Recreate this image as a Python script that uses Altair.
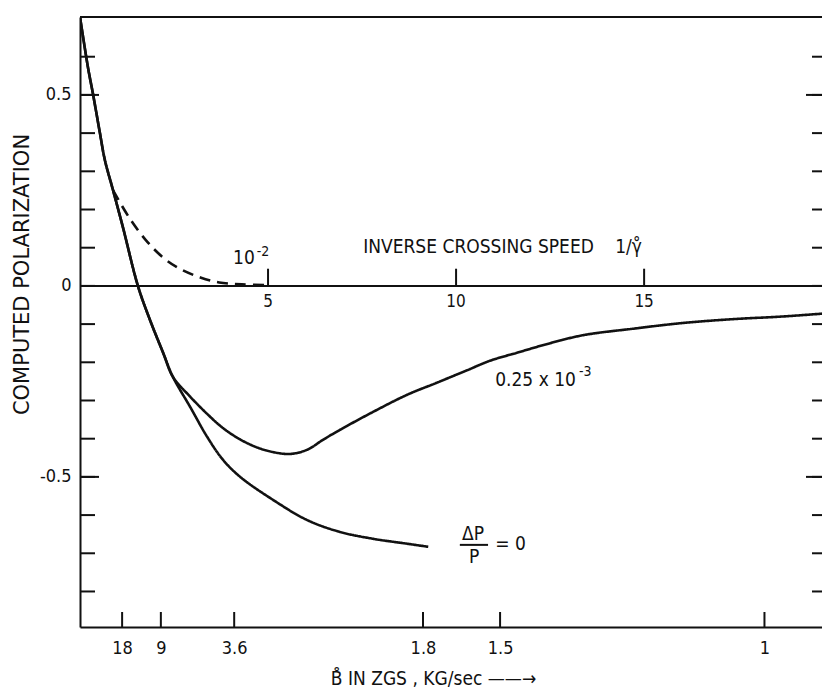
import altair as alt
import pandas as pd

# ---------------- data ----------------
# x = inverse crossing speed 1/gamma, y = computed polarization
common_u = [0.0, 0.21, 0.35, 0.53, 0.66, 0.88, 1.14, 1.54, 1.86, 2.21, 2.47]
common_v = [0.704, 0.573, 0.50, 0.40, 0.33, 0.25, 0.154, 0.0, -0.089, -0.175, -0.238]

upper_u = [2.93, 3.38, 3.80, 4.26, 4.71, 5.13, 5.59, 6.04, 6.46, 6.91, 7.79, 8.70,
           9.45, 10.29, 10.90, 11.62, 12.5, 13.38, 14.71, 16.04, 17.37, 18.70, 19.95]
upper_v = [-0.290, -0.335, -0.372, -0.402, -0.423, -0.435, -0.440, -0.429, -0.403,
           -0.377, -0.330, -0.285, -0.255, -0.221, -0.196, -0.175, -0.150, -0.129,
           -0.112, -0.097, -0.087, -0.080, -0.071]

lower_u = [2.93, 3.38, 3.80, 4.26, 5.13, 6.04, 6.91, 7.79, 8.70, 9.26]
lower_v = [-0.317, -0.395, -0.455, -0.500, -0.560, -0.613, -0.644, -0.662, -0.675, -0.683]

dashed_u = [0.88, 1.3, 1.75, 2.2, 2.65, 3.2, 3.7, 4.3, 5.0]
dashed_v = [0.25, 0.18, 0.12, 0.075, 0.045, 0.022, 0.009, 0.004, 0.002]

series_names = ["dp0", "q", "d"]

y_tick_values = [-0.8, -0.7, -0.6, -0.5, -0.4, -0.3, -0.2, -0.1, 0.0,
                 0.1, 0.2, 0.3, 0.4, 0.5, 0.6]
y_major_values = [0.5, -0.5]
y_label_values = [0.5, 0.0, -0.5]
y_label_texts = ["0.5", "0", "-0.5"]

bdot_positions = [1.12, 2.15, 4.1, 9.12, 11.17, 18.2]
bdot_labels = ["18", "9", "3.6", "1.8", "1.5", "1"]

crossing_ticks = [5, 10, 15]
crossing_labels = ["5", "10", "15"]

XMAX = 19.73
YMIN, YMAX = -0.893, 0.704

# ---------------- tables ----------------
rows = []
for u, v in zip(common_u + lower_u, common_v + lower_v):
    rows.append({"u": u, "v": v, "series": series_names[0]})
for u, v in zip(common_u + upper_u, common_v + upper_v):
    rows.append({"u": u, "v": v, "series": series_names[1]})
for u, v in zip(dashed_u, dashed_v):
    rows.append({"u": u, "v": v, "series": series_names[2]})
curves = pd.DataFrame(rows)

FONT = "DejaVu Sans Condensed, Liberation Sans Narrow, DejaVu Sans"
WIDE = "DejaVu Sans"
INK = "#111111"

xs = alt.Scale(domain=[0, XMAX], nice=False, zero=False)
ys = alt.Scale(domain=[YMIN, YMAX], nice=False, zero=False)


def expr_map(values, texts):
    parts = "".join(
        f"abs(datum.value - ({v})) < 1e-6 ? '{t}' : " for v, t in zip(values, texts)
    )
    return parts + "''"


x_axis = alt.Axis(
    values=bdot_positions,
    labelExpr=expr_map(bdot_positions, bdot_labels),
    ticks=False, tickSize=0, grid=False,
    domain=True, domainColor=INK, domainWidth=2,
    labelFont=FONT, labelFontSize=18, labelColor=INK, labelPadding=12,
    labelFlush=False, labelOverlap=False,
    title="B\u030a IN ZGS , KG/sec \u2014\u2014\u2192",
    titleFont=FONT, titleFontSize=19, titleFontWeight="normal", titleColor=INK,
    titleX=353, titleY=57, titleAlign="center", titleBaseline="alphabetic",
)

y_axis = alt.Axis(
    values=y_label_values,
    labelExpr=expr_map(y_label_values, y_label_texts),
    ticks=False, tickSize=0, grid=False,
    domain=True, domainColor=INK, domainWidth=2,
    labelFont=FONT, labelFontSize=18, labelColor=INK, labelPadding=9,
    labelFlush=False, labelOverlap=False,
    title="COMPUTED  POLARIZATION",
    titleFont=WIDE, titleFontSize=21, titleFontWeight="normal", titleColor=INK,
    titleAngle=270, titleX=-58, titleY=257, titleAlign="center", titleBaseline="middle",
)


def X(field):
    return alt.X(field, scale=xs, axis=x_axis)


def Y(field):
    return alt.Y(field, scale=ys, axis=y_axis)


lines = alt.Chart(curves).mark_line(
    color=INK, strokeWidth=2.6, interpolate="catmull-rom", clip=True
).encode(
    x=X("u:Q"),
    y=Y("v:Q"),
    detail="series:N",
    strokeDash=alt.StrokeDash(
        "series:N",
        scale=alt.Scale(domain=series_names, range=[[1, 0], [1, 0], [11, 7]]),
        legend=None,
    ),
)

yt = pd.DataFrame({"v": y_tick_values})
ym = pd.DataFrame({"v": y_major_values})

left_ticks = alt.Chart(yt).mark_rule(color=INK, strokeWidth=2).encode(
    y=Y("v:Q"), x=alt.value(0), x2=alt.value(15))
left_major = alt.Chart(ym).mark_rule(color=INK, strokeWidth=2).encode(
    y=Y("v:Q"), x=alt.value(0), x2=alt.value(19))
right_ticks = alt.Chart(yt).mark_rule(color=INK, strokeWidth=2).encode(
    y=Y("v:Q"), x=alt.value(732), x2=alt.value(742))
right_major = alt.Chart(ym).mark_rule(color=INK, strokeWidth=2).encode(
    y=Y("v:Q"), x=alt.value(726), x2=alt.value(742))

bt = pd.DataFrame({"u": bdot_positions})
bottom_ticks = alt.Chart(bt).mark_rule(color=INK, strokeWidth=2).encode(
    x=X("u:Q"), y=alt.value(610), y2=alt.value(595))

frame = pd.DataFrame({"u": [0.0, 0.0], "u2": [XMAX, XMAX], "v": [0.0, YMAX]})
frame_lines = alt.Chart(frame).mark_rule(color=INK, strokeWidth=2).encode(
    x=X("u:Q"), x2="u2:Q", y=Y("v:Q"))

ct = pd.DataFrame({"u": crossing_ticks, "v": [0.0] * 3, "v2": [0.045] * 3,
                   "t": crossing_labels})
cross_ticks = alt.Chart(ct).mark_rule(color=INK, strokeWidth=2).encode(
    x=X("u:Q"), y=Y("v:Q"), y2="v2:Q")
cross_labels = alt.Chart(ct).mark_text(
    font=FONT, fontSize=17, color=INK, baseline="top", dy=8
).encode(x=X("u:Q"), y=Y("v:Q"), text="t:N")

# annotations
ann_left = pd.DataFrame({
    "u": [7.53, 14.23, 11.04, 11.04, 4.07],
    "v": [0.085, 0.085, -0.262, -0.691, 0.058],
    "t": ["INVERSE CROSSING SPEED", "1/\u03b3\u030a", "0.25 x 10", "= 0", "10"],
})
ann_sup = pd.DataFrame({
    "u": [13.27, 4.70],
    "v": [-0.236, 0.078],
    "t": ["-3", "-2"],
})
ann_center = pd.DataFrame({
    "u": [10.45, 10.48],
    "v": [-0.665, -0.725],
    "t": ["\u0394P", "P"],
})
text_left = alt.Chart(ann_left).mark_text(
    font=FONT, fontSize=19, color=INK, align="left", baseline="alphabetic"
).encode(x=X("u:Q"), y=Y("v:Q"), text="t:N")
text_sup = alt.Chart(ann_sup).mark_text(
    font=FONT, fontSize=14, color=INK, align="left", baseline="alphabetic"
).encode(x=X("u:Q"), y=Y("v:Q"), text="t:N")
text_center = alt.Chart(ann_center).mark_text(
    font=FONT, fontSize=19, color=INK, align="center", baseline="alphabetic"
).encode(x=X("u:Q"), y=Y("v:Q"), text="t:N")

frac = pd.DataFrame({"u": [10.1], "u2": [10.85], "v": [-0.678]})
frac_bar = alt.Chart(frac).mark_rule(color=INK, strokeWidth=2).encode(
    x=X("u:Q"), x2="u2:Q", y=Y("v:Q"))

chart = alt.layer(
    lines, left_ticks, left_major, right_ticks, right_major, bottom_ticks,
    frame_lines, cross_ticks, cross_labels, text_left, text_sup, text_center,
    frac_bar,
).properties(
    width=742, height=610,
    autosize=alt.AutoSizeParams(type="none"),
    padding={"left": 72, "top": 9, "right": 0, "bottom": 63},
    background="white",
).configure_view(stroke=None)

chart.save("out.html", embed_options={"renderer": "svg", "actions": False})
